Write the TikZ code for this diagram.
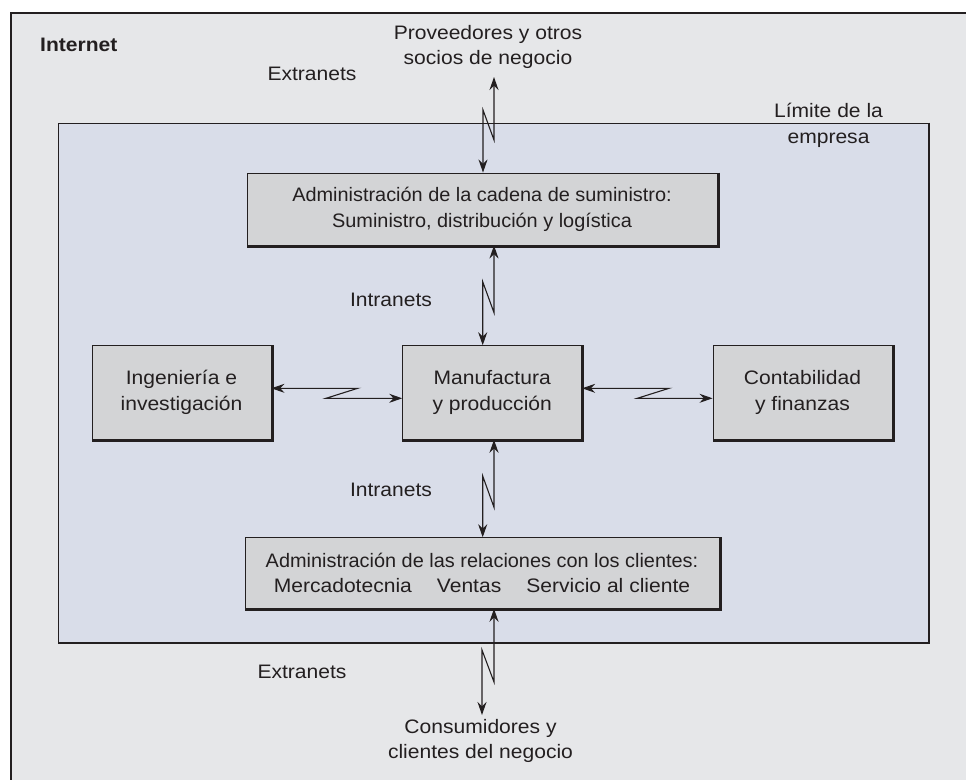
\documentclass[tikz,border=0pt]{standalone}
\usepackage{fontspec}
\usepackage{graphicx}
\setmainfont{Liberation Sans}[FakeStretch=1.08]
\usetikzlibrary{arrows.meta,calc}
\definecolor{outerbg}{HTML}{E6E7E9}
\definecolor{firmbg}{HTML}{D9DDE9}
\definecolor{boxbg}{HTML}{D3D4D6}
\definecolor{ink}{HTML}{231F20}
\newcommand\fsz{\fontsize{19.5}{25.8}\selectfont}
\newcommand\nar[1]{\scalebox{0.945}[1]{#1}}
\begin{document}
\begin{tikzpicture}[x=1pt,y=-1pt,
  box/.style={draw=ink, line width=0.9pt, fill=boxbg, align=center, inner sep=0pt, font=\fsz, text=ink},
  lbl/.style={align=center, inner sep=0pt, font=\fsz, text=ink},
  shadowline/.style={draw=ink, line width=2.6pt},
  dz/.style={draw=ink, line width=1.1pt, {Stealth[length=13pt,width=9pt]}-{Stealth[length=13pt,width=9pt]}}]
\useasboundingbox (0,0) rectangle (966,779);
\clip (0,0) rectangle (966,779);
% Internet frame
\draw[fill=outerbg, draw=ink, line width=1.3pt] (11,13) rectangle (1000,820);
% firm boundary
\node[draw=ink, line width=0.9pt, fill=firmbg, minimum width=870pt, minimum height=519pt, inner sep=0pt] (firm) at (493,382.5) {};
\draw[shadowline] ([xshift=0.5pt]firm.north east) -- ([xshift=0.5pt,yshift=-0.5pt]firm.south east) -- ([yshift=-0.5pt]firm.south west);
% boxes
\node[box, minimum width=470pt, minimum height=72pt] (scm) at (482,209) {\nar{Administración de la cadena de suministro:}\\\nar{Suministro, distribución y logística}};
\node[box, minimum width=179pt, minimum height=93.6pt] (eng) at (181.5,392.5) {Ingeniería e\\investigación};
\node[box, minimum width=179pt, minimum height=93.6pt] (mfg) at (492.2,392.5) {Manufactura\\y producción};
\node[box, minimum width=179pt, minimum height=93.6pt] (acc) at (802.5,392.5) {Contabilidad\\y finanzas};
\node[box, minimum width=474pt, minimum height=70.6pt] (crm) at (482,573) {\nar{Administración de las relaciones con los clientes:}\\Mercadotecnia\hspace{25pt}Ventas\hspace{25pt}Servicio al cliente};
\foreach \n in {scm,eng,mfg,acc,crm}{
  \draw[shadowline] ([xshift=0.9pt]\n.north east) -- ([xshift=0.9pt,yshift=-0.9pt]\n.south east) -- ([yshift=-0.9pt]\n.south west);
}
% labels
\node[lbl, anchor=base west, font=\fsz\bfseries] (inet) at (40,51.7) {Internet};
\node[lbl] (prov) at (488,47) {Proveedores y otros\\socios de negocio};
\node[lbl, anchor=base] (ext1) at (312,80) {Extranets};
\node[lbl] (limit) at (828.5,125) {Límite de la\\empresa};
\node[lbl, anchor=base] (int1) at (391,306) {Intranets};
\node[lbl, anchor=base] (int2) at (391,496) {Intranets};
\node[lbl, anchor=base] (ext2) at (302,678) {Extranets};
\node[lbl] (cons) at (480.5,741) {Consumidores y\\clientes del negocio};
% connector coordinates
\coordinate (p0) at (494,77);
\coordinate (p1) at (494,140);
\coordinate (p2) at (483,110);
\coordinate (u1) at (494,312.7);
\coordinate (u2) at (482.7,281.7);
\coordinate (l1) at (494,507.3);
\coordinate (l2) at (482.7,476);
\coordinate (c1) at (494,682);
\coordinate (c2) at (482,650);
\coordinate (c3) at (482,715);
\coordinate (h1) at (357.7,388.3);
\coordinate (h2) at (326,398.3);
\coordinate (k1) at (669,388.3);
\coordinate (k2) at (637.3,398.3);
% connectors
\draw[dz] (p0) -- (p1) -- (p2) -- (p2 |- scm.north);
\draw[dz] (u1 |- scm.south) -- (u1) -- (u2) -- (u2 |- mfg.north);
\draw[dz] (l1 |- mfg.south) -- (l1) -- (l2) -- (l2 |- crm.north);
\draw[dz] (c1 |- crm.south) -- (c1) -- (c2) -- (c3);
\draw[dz] (h1 -| eng.east) -- (h1) -- (h2) -- (h2 -| mfg.west);
\draw[dz] (k1 -| mfg.east) -- (k1) -- (k2) -- (k2 -| acc.west);
\end{tikzpicture}
\end{document}
